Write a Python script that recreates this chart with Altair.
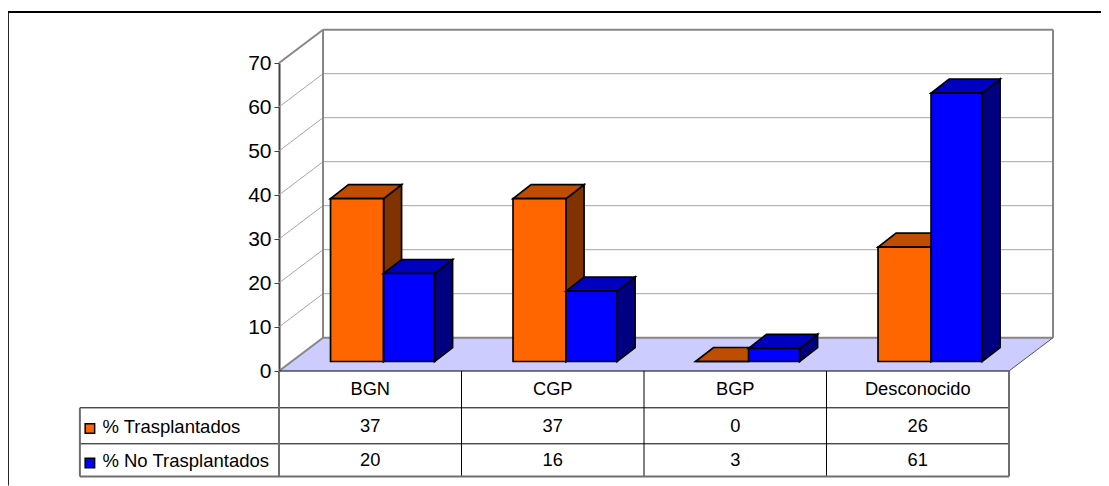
import altair as alt
import pandas as pd

categories = ["BGN", "CGP", "BGP", "Desconocido"]
series_names = ["% Trasplantados", "% No Trasplantados"]
trasplantados = [37, 37, 0, 26]
no_trasplantados = [20, 16, 3, 61]
y_ticks = [0, 10, 20, 30, 40, 50, 60, 70]

FRONT = ["#FF6600", "#0000FF"]
TOP = ["#BF4D00", "#0000BF"]
SIDE = ["#803300", "#000080"]
FLOOR = "#CCCCFF"

PX_X = 182.4   # px per category slot
PX_Y = 308 / 70  # px per value unit
X0, Y0 = 279.5, 371.5


def ux(p):
    return (p - X0) / PX_X


def uy(p):
    return (Y0 - p) / PX_Y


WALL_DX, WALL_DY = 44 / PX_X, 33.3 / PX_Y
BAR_DX, BAR_DY = 18 / PX_X, 14 / PX_Y
BAR_LIFT = 9.5 / PX_Y
BAR_START = 51.5 / PX_X
BAR_W = [53 / PX_X, 51 / PX_X]

xs = alt.Scale(domain=[0, 4], nice=False, zero=False)
ys = alt.Scale(domain=[0, 70], nice=False, zero=False)
y_axis = alt.Axis(values=y_ticks, grid=False, title=None, labelFontSize=21,
                  labelFont="Liberation Sans", labelColor="#000000", labelPadding=3,
                  domainColor="#404040", domainWidth=2, tickColor="#404040", tickSize=5,
                  tickWidth=1)
XP = alt.X("x:Q", scale=xs, axis=None)
YP = alt.Y("y:Q", scale=ys, stack=False, axis=y_axis, title=None)


def segs(items, color, width):
    df = pd.DataFrame(items, columns=["x", "y", "x2", "y2"])
    return alt.Chart(df).mark_rule(color=color, strokeWidth=width).encode(
        x=XP, y=YP, x2="x2:Q", y2="y2:Q")


# floor
floor_df = pd.DataFrame({
    "x": [0, WALL_DX, 4, 4 + WALL_DX],
    "y": [0, WALL_DY, WALL_DY, WALL_DY],
    "y0": [0, 0, 0, WALL_DY],
})
floor = alt.Chart(floor_df).mark_area(color=FLOOR, opacity=1).encode(x=XP, y=YP, y2="y0:Q")

# gridlines on back and side walls
grid_items = [(WALL_DX, v + WALL_DY, 4 + WALL_DX, v + WALL_DY) for v in y_ticks[1:-1]]
grid_items += [(0, v, WALL_DX, v + WALL_DY) for v in y_ticks[1:-1]]
grid = segs(grid_items, "#A6A6A6", 1)

walls = segs([
    (WALL_DX, WALL_DY, WALL_DX, 70 + WALL_DY),
    (WALL_DX, 70 + WALL_DY, 4 + WALL_DX, 70 + WALL_DY),
    (4 + WALL_DX, WALL_DY, 4 + WALL_DX, 70 + WALL_DY),
    (WALL_DX, WALL_DY, 4 + WALL_DX, WALL_DY),
    (0, 0, WALL_DX, WALL_DY),
    (0, 70, WALL_DX, 70 + WALL_DY),
], "#868686", 2)
floor_edge = segs([(4, 0, 4 + WALL_DX, WALL_DY)], "#555555", 1)

# bars
bar_layers = []
for s, values in enumerate([trasplantados, no_trasplantados]):
    tops, sides, fronts = [], [], []
    w = BAR_W[s]
    for c, v in enumerate(values):
        x0 = c + BAR_START + (BAR_W[0] if s else 0)
        x1 = x0 + w
        base = BAR_LIFT
        t = v + BAR_LIFT
        tops += [
            dict(g=c, x=x0, y=t, y0=t),
            dict(g=c, x=x0 + BAR_DX, y=t + BAR_DY, y0=t),
            dict(g=c, x=x1, y=t + BAR_DY, y0=t),
            dict(g=c, x=x1 + BAR_DX, y=t + BAR_DY, y0=t + BAR_DY),
        ]
        sides += [
            dict(g=c, x=x1, y=t, y0=base),
            dict(g=c, x=x1 + BAR_DX, y=t + BAR_DY, y0=base + BAR_DY),
        ]
        fronts.append(dict(x=x0, x2=x1, y=t, y2=base))
    for rows, col in ((sides, SIDE[s]), (tops, TOP[s])):
        bar_layers.append(
            alt.Chart(pd.DataFrame(rows)).mark_area(
                color=col, opacity=1, stroke="#000000", strokeWidth=1.7, strokeJoin="miter"
            ).encode(x=XP, y=YP, y2="y0:Q", detail="g:N"))
    bar_layers.append(
        alt.Chart(pd.DataFrame(fronts)).mark_rect(
            color=FRONT[s], opacity=1, stroke="#000000", strokeWidth=1.7
        ).encode(x=XP, x2="x2:Q", y=YP, y2="y2:Q"))

# data table
row_y = [uy(408.3), uy(444.3), uy(477)]
left = ux(80.5)
table_black = segs([
    (left, row_y[0], 4, row_y[0]),
    (left, row_y[1], 4, row_y[1]),
    (0, 0, 4, 0),
    (1, 0, 1, row_y[2]),
    (2, 0, 2, row_y[2]),
    (3, 0, 3, row_y[2]),
], "#000000", 1)
table_gray = segs([
    (left, row_y[0], left, row_y[2]),
    (4, 0, 4, row_y[2]),
    (0, 0, 0, row_y[2]),
    (left, row_y[2], 4, row_y[2]),
], "#6E6E6E", 2)

cells = []
for c, name in enumerate(categories):
    cells.append(dict(x=c + 0.5, y=uy(390), t=name))
    cells.append(dict(x=c + 0.5, y=uy(427.5), t=str(trasplantados[c])))
    cells.append(dict(x=c + 0.5, y=uy(461.5), t=str(no_trasplantados[c])))
cell_text = alt.Chart(pd.DataFrame(cells)).mark_text(
    font="Liberation Sans", fontSize=18.3, color="#000000", align="center", baseline="middle"
).encode(x=XP, y=YP, text="t:N")

legend_df = pd.DataFrame([
    dict(x=ux(103), y=uy(427.5), t=series_names[0]),
    dict(x=ux(103), y=uy(461.5), t=series_names[1]),
])
legend_text = alt.Chart(legend_df).mark_text(
    font="Liberation Sans", fontSize=18.5, color="#000000", align="left", baseline="middle"
).encode(x=XP, y=YP, text="t:N")
swatches = alt.Chart(pd.DataFrame([
    dict(x=ux(90.5), y=uy(429), c=FRONT[0]),
    dict(x=ux(90.5), y=uy(463.5), c=FRONT[1]),
])).mark_point(shape="square", filled=True, size=90, opacity=1, stroke="#000000",
               strokeWidth=1.5).encode(
    x=XP, y=YP, fill=alt.Fill("c:N", scale=None))

# page frame
frame = segs([
    (ux(8), uy(12.5), ux(1109), uy(12.5)),
    (ux(8.5), uy(12.5), ux(8.5), uy(486)),
], "#000000", 2)

chart = alt.layer(
    frame, floor, grid, walls, floor_edge, *bar_layers,
    table_black, table_gray, cell_text, legend_text, swatches,
).properties(
    width=730, height=308,
    padding={"left": 271, "top": 55, "right": 92, "bottom": 115},
    autosize=alt.AutoSizeParams(type="none"),
    background="#FFFFFF",
).configure_view(stroke=None)

chart.save("out.html", embed_options={"renderer": "svg", "actions": False})
